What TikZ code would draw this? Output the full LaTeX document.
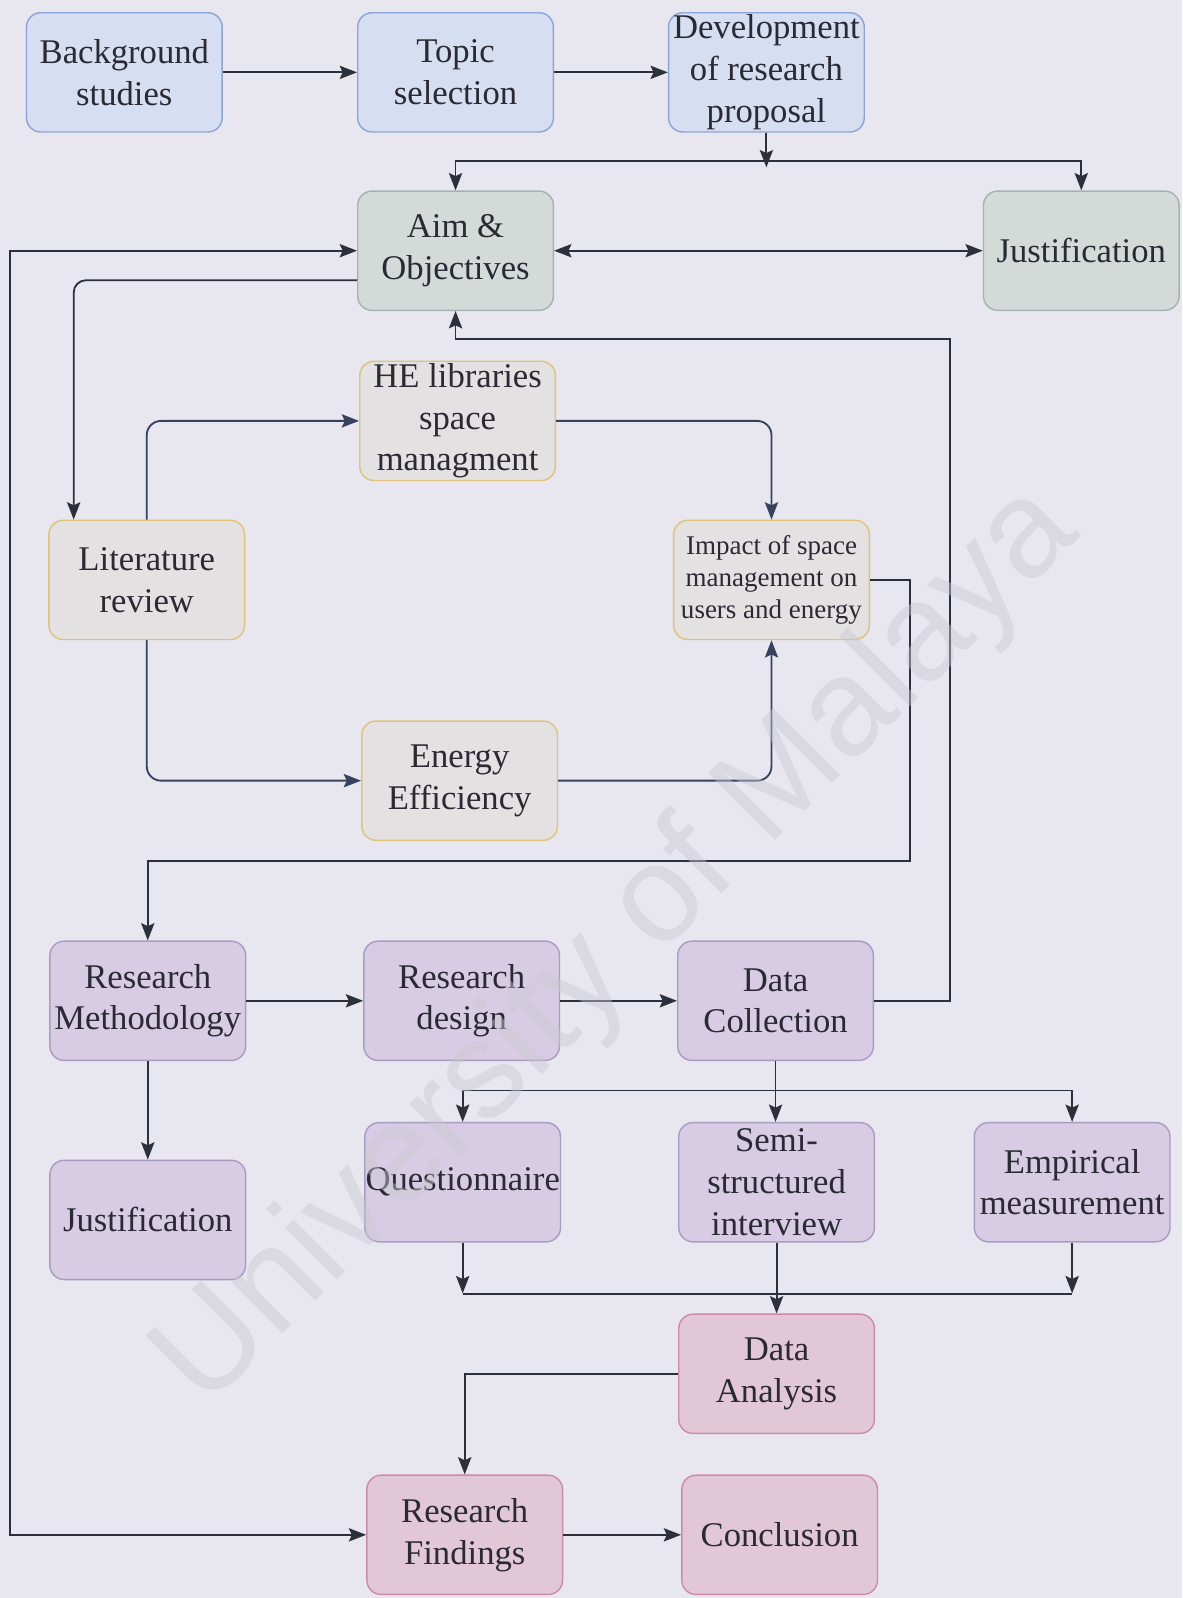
\documentclass[tikz,border=0pt]{standalone}
\usepackage{fontspec}
\setmainfont{Liberation Serif}
\newfontfamily\wmfont{Liberation Sans}
\usetikzlibrary{arrows.meta,calc}

\definecolor{paper}{HTML}{E8E6EF}
\definecolor{txt}{HTML}{2A2A34}
\definecolor{wire}{HTML}{2C303B}
\definecolor{bluewire}{HTML}{36435F}
\definecolor{bluefill}{HTML}{D6DEF2}
\definecolor{blueline}{HTML}{8DA5D6}
\definecolor{greenfill}{HTML}{D4DAD8}
\definecolor{greenline}{HTML}{A5B4AF}
\definecolor{tanfill}{HTML}{E4E1E2}
\definecolor{tanline}{HTML}{DEC378}
\definecolor{purplefill}{HTML}{D8CCE4}
\definecolor{purpleline}{HTML}{AA9BC3}
\definecolor{pinkfill}{HTML}{E2C8D6}
\definecolor{pinkline}{HTML}{CD8CA5}
\definecolor{wmgray}{HTML}{C9C8D0}

\tikzset{
  box/.style={rounded corners=14pt, minimum width=192pt, minimum height=117pt,
    inner sep=0pt, align=center, line width=1.4pt, text=txt,
    font=\fontsize{34}{41}\selectfont},
  bluebox/.style={box, fill=bluefill, draw=blueline},
  greenbox/.style={box, fill=greenfill, draw=greenline},
  tanbox/.style={box, fill=tanfill, draw=tanline},
  purplebox/.style={box, fill=purplefill, draw=purpleline},
  pinkbox/.style={box, fill=pinkfill, draw=pinkline},
  tip/.tip={Stealth[length=17pt,width=13pt,inset=3pt]},
  arr/.style={draw=wire, line width=1.8pt, -tip},
  arrboth/.style={draw=wire, line width=1.8pt, tip-tip},
  link/.style={draw=wire, line width=1.8pt},
  barr/.style={draw=bluewire, line width=1.8pt, -tip, rounded corners=14pt},
}

\begin{document}
\begin{tikzpicture}[x=1pt,y=-1pt]
  % page
  \fill[paper] (0,0) rectangle (1160,1568);
  \useasboundingbox (0,0) rectangle (1160,1568);

  % proposal stage
  \node[bluebox] (bg)    at (122,71)  {Background\\studies};
  \node[bluebox] (topic) at (447,71)  {Topic\\selection};
  \node[bluebox] (dev)   at (752,71)  {Development\\of research\\proposal};

  % aims
  \node[greenbox] (aim)   at (447,246)  {Aim \&\\Objectives};
  \node[greenbox] (just1) at (1061,246) {Justification};

  % literature
  \node[tanbox] (he)  at (449,413) {HE libraries\\space\\managment};
  \node[tanbox] (lit) at (144,569) {Literature\\review};
  \node[tanbox, font=\fontsize{26.5}{31.5}\selectfont] (imp) at (757,569)
    {Impact of space\\management on\\users and energy};
  \node[tanbox] (en)  at (451,766) {Energy\\Efficiency};

  % methodology
  \node[purplebox] (rm)    at (145,982)  {Research\\Methodology};
  \node[purplebox] (rd)    at (453,982)  {Research\\design};
  \node[purplebox] (dc)    at (761,982)  {Data\\Collection};
  \node[purplebox] (just2) at (145,1197) {Justification};
  \node[purplebox] (q)     at (454,1160) {Questionnaire};
  \node[purplebox] (semi)  at (762,1160) {Semi-\\structured\\interview};
  \node[purplebox] (emp)   at (1052,1160) {Empirical\\measurement};

  % results
  \node[pinkbox] (da)    at (762,1348) {Data\\Analysis};
  \node[pinkbox] (rf)    at (456,1506) {Research\\Findings};
  \node[pinkbox] (concl) at (765,1506) {Conclusion};

  % top row flow
  \draw[arr] (bg.east) -- (topic.west);
  \draw[arr] (topic.east) -- (dev.west);
  \coordinate (split1) at (752,158);
  \draw[arr] (dev.south) -- ($(dev.south)+(0,34)$);
  \draw[arr] (split1) -| (aim.north);
  \draw[arr] (split1) -| (just1.north);
  \draw[arrboth] (aim.east) -- (just1.west);

  % outer feedback loop
  \draw[arrboth] (aim.west) -- (10,246) |- (rf.west);

  % aims to literature
  \draw[arr, rounded corners=12pt] ($(aim.west)+(0,29)$) -| ($(lit.north west)+(25,0)$);

  % literature branches
  \draw[barr] (lit.north) |- (he.west);
  \draw[barr] (he.east) -| (imp.north);
  \draw[barr] (lit.south) |- (en.west);
  \draw[barr] (en.east) -| (imp.south);

  % to methodology
  \coordinate (turn1) at (893,845);
  \draw[arr] (imp.east) -| (turn1) -| (rm.north);

  % data collection back to aims
  \coordinate (turn2) at (932,333);
  \draw[arr] (dc.east) -| (turn2) -| (aim.south);

  % methodology row
  \draw[arr] (rm.east) -- (rd.west);
  \draw[arr] (rd.east) -- (dc.west);
  \draw[arr] (rm.south) -- (just2.north);

  % collection methods
  \coordinate (split2) at (761,1070);
  \draw[arr] (dc.south) -- (dc.south |- semi.north);
  \draw[arr] (split2) -| (q.north);
  \draw[arr] (split2) -| (emp.north);

  % merge into analysis
  \coordinate (merge) at (762,1270);
  \draw[arr] (q.south) -- ($(q.south |- merge)+(0,-1)$);
  \draw[arr] (emp.south) -- ($(emp.south |- merge)+(0,-1)$);
  \draw[link] (q.south |- merge) -- (emp.south |- merge);
  \draw[arr] (semi.south) -- (da.north);

  % results
  \draw[arr] (da.west) -| (rf.north);
  \draw[arr] (rf.east) -- (concl.west);

  % watermark
  \node[rotate=45, text=wmgray, opacity=0.45, font=\wmfont\fontsize{135}{135}\selectfont]
    (wmark) at (607,930) {University of Malaya};
\end{tikzpicture}
\end{document}
